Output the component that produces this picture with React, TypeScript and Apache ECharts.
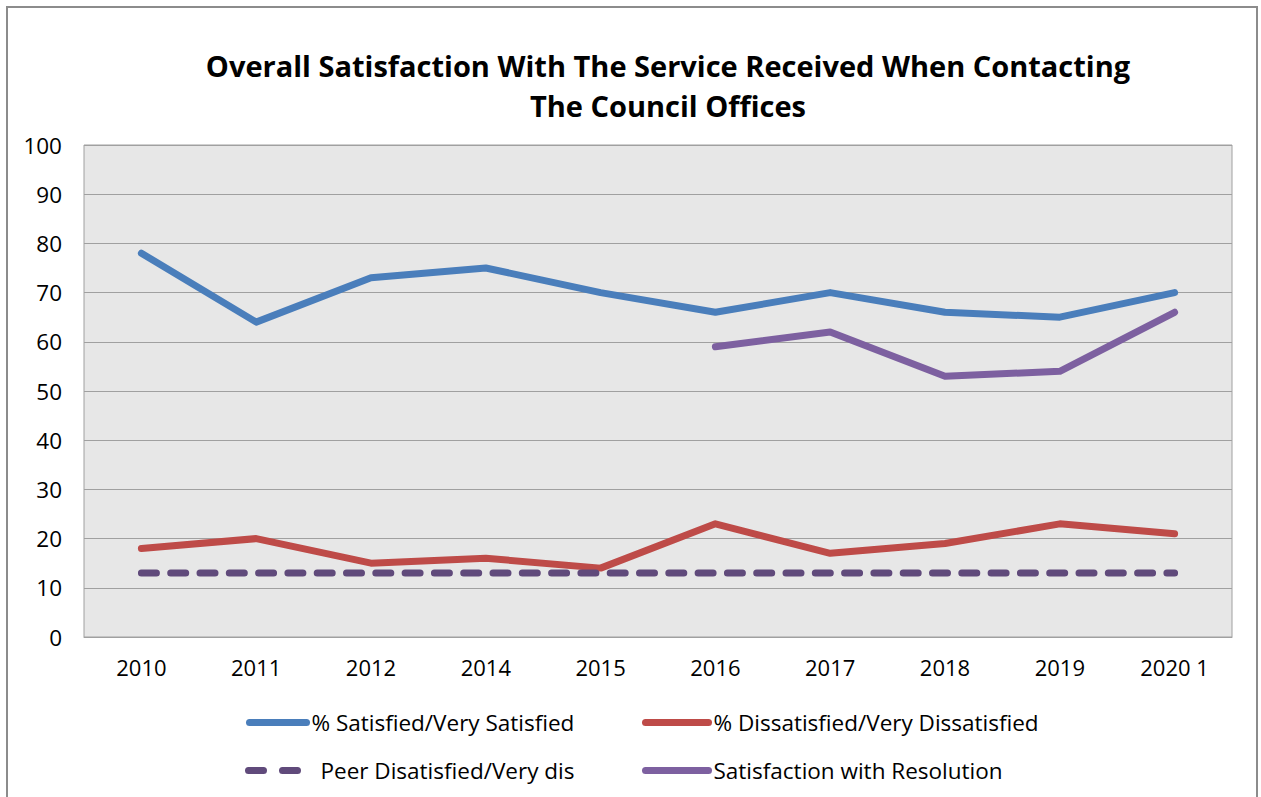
import React, { useEffect, useRef } from "react";
import * as echarts from "echarts";

const categories = ["2010", "2011", "2012", "2014", "2015", "2016", "2017", "2018", "2019", "2020 1"];
const satisfied = [78, 64, 73, 75, 70, 66, 70, 66, 65, 70];
const dissatisfied = [18, 20, 15, 16, 14, 23, 17, 19, 23, 21];
const peer = [13, 13, 13, 13, 13, 13, 13, 13, 13, 13];
const resolution = [null, null, null, null, null, 59, 62, 53, 54, 66];
const yTicks = { min: 0, max: 100, interval: 10 };
const titleLines = ["Overall Satisfaction With The Service Received When Contacting", "The Council Offices"];
const seriesNames = [
  "% Satisfied/Very Satisfied",
  "% Dissatisfied/Very Dissatisfied",
  "Peer Disatisfied/Very dis",
  "Satisfaction with Resolution",
];

const FONT = "'Open Sans', 'Liberation Sans', sans-serif";

export default function App() {
  const ref = useRef<HTMLDivElement>(null);
  useEffect(() => {
    if (!ref.current) return;
    const chart = echarts.init(ref.current, null, { renderer: "svg" });
    const lineBase = (color: string, type: any = "solid") => ({
      width: 7,
      color,
      type,
      cap: "round",
      join: "round",
    });
    const legendText = { fontFamily: FONT, fontSize: 22.5, color: "#000" };
    const mkLegend = (name: string, left: number, top: number, width: number, dash: any = "solid") => ({
      data: [name],
      left,
      top,
      padding: 0,
      itemWidth: width,
      itemHeight: 20,
      textStyle: legendText,
      selectedMode: false,
      itemStyle: { opacity: 0 },
      lineStyle: { width: 7, cap: "round", type: dash },
    });
    chart.setOption({
      animation: false,
      backgroundColor: "#fff",
      textStyle: { fontFamily: FONT },
      graphic: [
        {
          type: "rect",
          shape: { x: 7, y: 7, width: 1250, height: 830 },
          style: { fill: "none", stroke: "#8c8c8c", lineWidth: 2 },
          silent: true,
        },
        {
          type: "text",
          x: 668,
          y: 65,
          style: {
            text: titleLines[0],
            font: `bold 29px ${FONT}`,
            fill: "#000",
            textAlign: "center",
            textVerticalAlign: "middle",
          },
        },
        {
          type: "text",
          x: 668,
          y: 105,
          style: {
            text: titleLines[1],
            font: `bold 29px ${FONT}`,
            fill: "#000",
            textAlign: "center",
            textVerticalAlign: "middle",
          },
        },
      ],
      legend: [
        mkLegend(seriesNames[0], 246, 711, 57),
        mkLegend(seriesNames[1], 642, 711, 63),
        mkLegend(seriesNames[2], 245, 759, 67, [15, 19, 15, 40]),
        mkLegend(seriesNames[3], 642, 759, 63),
      ],
      grid: {
        left: 84,
        right: 29,
        top: 145,
        bottom: 160,
        show: true,
        backgroundColor: "#e7e7e7",
        borderColor: "#a0a0a0",
        borderWidth: 1,
        containLabel: false,
      },
      xAxis: {
        type: "category",
        data: categories,
        boundaryGap: true,
        axisLine: { show: true, lineStyle: { color: "#a0a0a0", width: 1 } },
        axisTick: { show: false },
        axisLabel: { fontFamily: FONT, fontSize: 22, color: "#000", margin: 19 },
      },
      yAxis: {
        type: "value",
        min: yTicks.min,
        max: yTicks.max,
        interval: yTicks.interval,
        axisLine: { show: false },
        axisTick: { show: false },
        splitLine: { show: true, lineStyle: { color: "#a0a0a0", width: 1 } },
        axisLabel: { fontFamily: FONT, fontSize: 22.5, color: "#000", margin: 22 },
      },
      series: [
        {
          name: seriesNames[0],
          type: "line",
          data: satisfied,
          symbol: "none",
          color: "#4a7ebb",
          lineStyle: lineBase("#4a7ebb"),
        },
        {
          name: seriesNames[1],
          type: "line",
          data: dissatisfied,
          symbol: "none",
          color: "#be4b48",
          lineStyle: lineBase("#be4b48"),
        },
        {
          name: seriesNames[2],
          type: "line",
          data: peer,
          symbol: "none",
          color: "#604a7b",
          lineStyle: lineBase("#604a7b", [15, 14.3]),
        },
        {
          name: seriesNames[3],
          type: "line",
          data: resolution,
          symbol: "none",
          color: "#7d60a0",
          connectNulls: false,
          lineStyle: lineBase("#7d60a0"),
        },
      ],
    });
    return () => chart.dispose();
  }, []);
  return (
    <div
      ref={ref}
      style={{ position: "absolute", left: 0, top: 0, width: 1261, height: 797 }}
    />
  );
}
